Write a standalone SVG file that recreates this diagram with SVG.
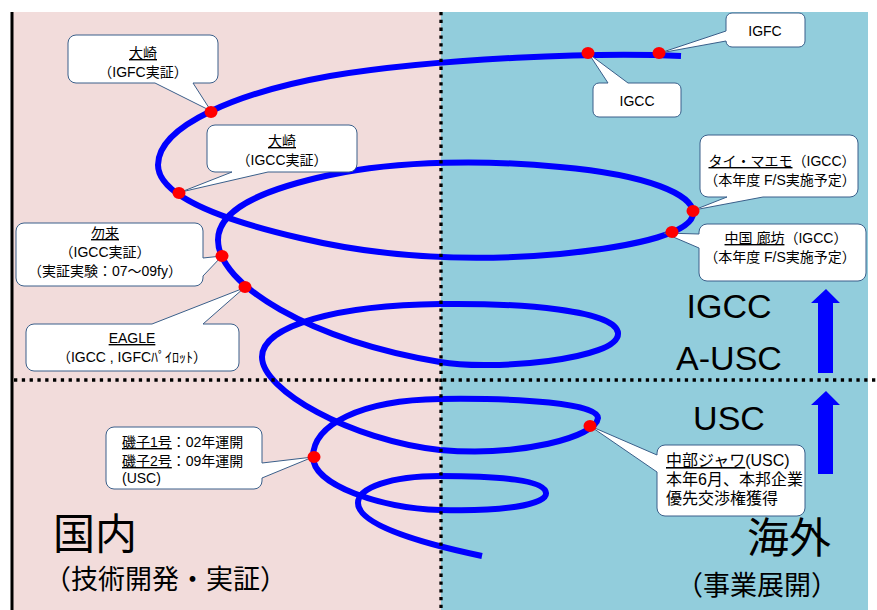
<svg xmlns="http://www.w3.org/2000/svg" width="877" height="610" viewBox="0 0 877 610">
<style>
.t{font-family:'Liberation Sans','Noto Sans CJK JP',sans-serif;fill:#000}
.j{font-family:'Noto Sans CJK JP',sans-serif;fill:#000}
.c14{font-size:14px}
.m{text-anchor:middle}
.u{text-decoration:underline}
.box{fill:#fff;stroke:#3A5F8A;stroke-width:1}
.dot{fill:#FF0000}
.spiral{fill:none;stroke:#0000FF;stroke-width:6;stroke-linecap:butt}
.dotted{stroke:#000;stroke-width:3.3;stroke-dasharray:3.3 4.5;fill:none}
.arrow{fill:#0000FF}
</style>
<rect x="0" y="0" width="877" height="610" fill="#fff"/>
<rect x="12" y="12" width="429" height="598" fill="#F2DCDB"/>
<rect x="441" y="12" width="427" height="598" fill="#92CDDC"/>
<line x1="12" y1="12" x2="12" y2="610" stroke="#000" stroke-width="3"/>

<g id="spiral">
<path class="spiral" d="M681,56 C600,52 440,58 330,76 C240,92 158,125 158,165 C158,190 200,215 300,238 C380,257 470,262 560,254 C640,246 695,232 693,212 C692,195 650,175 560,167 C490,160 400,160 330,175 C260,190 218,210 218,240 C218,285 310,340 440,362 C490,371 620,360 618,333 C616,310 520,303 440,304 C340,305 262,325 262,357 C262,390 350,440 440,450 C520,457 596,437 598,418 C598,403 520,398 440,399 C360,400 313,425 313,457 C313,485 380,508 440,510 C500,512 547,505 546,493 C545,480 500,476 440,476 C390,476 358,488 358,503 C358,525 420,543 482,556"/>
</g>

<g id="dividers">
<line class="dotted" x1="441" y1="12" x2="441" y2="610"/>
<line class="dotted" x1="14" y1="380" x2="877" y2="380"/>
</g>

<g id="connectors">
<path id="ptr-arrow-upper" class="arrow" d="M826,289 L840,303 L833,303 L833,373 L818,373 L818,303 L811,303 Z"/>
<path id="ptr-arrow-lower" class="arrow" d="M826,391 L840,405 L833,405 L833,474 L818,474 L818,405 L811,405 Z"/>
</g>

<g id="callout-osaki-igfc">
<path class="box" d="M76,35 H210 A8 8 0 0 1 218,43 V75 A8 8 0 0 1 210,83 H193 L211,111 L155,83 H76 A8 8 0 0 1 68,75 V43 A8 8 0 0 1 76,35 Z"/>
<text class="t c14 m" x="143" y="58"><tspan class="u">大崎</tspan></text>
<text class="t c14 m" x="143" y="77">（IGFC実証）</text>
</g>

<g id="callout-osaki-igcc">
<path class="box" d="M215,125 H349 A8 8 0 0 1 357,133 V164 A8 8 0 0 1 349,172 H268 L181,192 L232,172 H215 A8 8 0 0 1 207,164 V133 A8 8 0 0 1 215,125 Z"/>
<text class="t c14 m" x="282" y="146"><tspan class="u">大崎</tspan></text>
<text class="t c14 m" x="282" y="165">（IGCC実証）</text>
</g>

<g id="callout-nakoso">
<path class="box" d="M24,223 H195 A8 8 0 0 1 203,231 V258 L222,256 L203,276 V278 A8 8 0 0 1 195,286 H24 A8 8 0 0 1 16,278 V231 A8 8 0 0 1 24,223 Z"/>
<text class="t c14 m" x="105" y="238"><tspan class="u">勿来</tspan></text>
<text class="t c14 m" x="105" y="257">（IGCC実証）</text>
<text class="t c14 m" x="105" y="276">（実証実験：07～09fy）</text>
</g>

<g id="callout-eagle">
<path class="box" d="M34,324 H152 L244,288 L203,324 H231 A8 8 0 0 1 239,332 V363 A8 8 0 0 1 231,371 H34 A8 8 0 0 1 26,363 V332 A8 8 0 0 1 34,324 Z"/>
<text class="t c14 m" x="132" y="343"><tspan class="u">EAGLE</tspan></text>
<text class="t c14 m" x="132" y="362">（IGCC , IGFCﾊﾟｲﾛｯﾄ）</text>
</g>

<g id="callout-igcc">
<path class="box" d="M599,83 H608 L589,54 L628,83 H675 A6 6 0 0 1 681,89 V111 A6 6 0 0 1 675,117 H599 A6 6 0 0 1 593,111 V89 A6 6 0 0 1 599,83 Z"/>
<text class="t c14 m" x="637" y="106">IGCC</text>
</g>

<g id="callout-igfc">
<path class="box" d="M732,13 H799 A6 6 0 0 1 805,19 V41 A6 6 0 0 1 799,47 H732 A6 6 0 0 1 726,41 L660,53 L726,31 V19 A6 6 0 0 1 732,13 Z"/>
<text class="t c14 m" x="765" y="36">IGFC</text>
</g>

<g id="callout-thai">
<path class="box" d="M708,135 H850 A8 8 0 0 1 858,143 V189 A8 8 0 0 1 850,197 H763 L694,210 L727,197 H708 A8 8 0 0 1 700,189 V143 A8 8 0 0 1 708,135 Z"/>
<text class="t c14 m" x="782" y="166"><tspan class="u">タイ・マエモ</tspan>（IGCC）</text>
<text class="t c14 m" x="780" y="185">（本年度 F/S実施予定）</text>
</g>

<g id="callout-china">
<path class="box" d="M707,224 H858 A8 8 0 0 1 866,232 V273 A8 8 0 0 1 858,281 H707 A8 8 0 0 1 699,273 V248 L664,233 L699,234 V232 A8 8 0 0 1 707,224 Z"/>
<text class="t c14 m" x="786" y="243"><tspan class="u">中国 廊坊</tspan>（IGCC）</text>
<text class="t c14 m" x="780" y="262">（本年度 F/S実施予定）</text>
</g>

<g id="callout-isogo">
<path class="box" d="M114,427 H254 A8 8 0 0 1 262,435 V463 L313,457 L262,478 V481 A8 8 0 0 1 254,489 H114 A8 8 0 0 1 106,481 V435 A8 8 0 0 1 114,427 Z"/>
<text class="t c14" x="122" y="447"><tspan class="u">磯子1号</tspan>：02年運開</text>
<text class="t c14" x="122" y="466"><tspan class="u">磯子2号</tspan>：09年運開</text>
<text class="t c14" x="122" y="483">(USC)</text>
</g>

<g id="callout-chubu-jawa">
<path class="box" d="M665,445 H797 A8 8 0 0 1 805,453 V508 A8 8 0 0 1 797,516 H665 A8 8 0 0 1 657,508 V472 L590,426 L657,455 V453 A8 8 0 0 1 665,445 Z"/>
<text class="t" font-size="16" x="666" y="466"><tspan class="u">中部ジャワ</tspan>(USC)</text>
<text class="t" font-size="16" x="666" y="485">本年6月、本邦企業</text>
<text class="t" font-size="16" x="666" y="504">優先交渉権獲得</text>
</g>

<g id="points">
<ellipse class="dot" cx="659" cy="53" rx="6.5" ry="6"/>
<ellipse class="dot" cx="588" cy="53" rx="6.5" ry="6"/>
<ellipse class="dot" cx="211" cy="112" rx="6.5" ry="6"/>
<ellipse class="dot" cx="179" cy="193" rx="6.5" ry="6"/>
<ellipse class="dot" cx="693" cy="211" rx="6.5" ry="6"/>
<ellipse class="dot" cx="672" cy="232" rx="6.5" ry="6"/>
<ellipse class="dot" cx="222" cy="256" rx="6.5" ry="6"/>
<ellipse class="dot" cx="245" cy="287" rx="6.5" ry="6"/>
<ellipse class="dot" cx="314" cy="457" rx="6.5" ry="6"/>
<ellipse class="dot" cx="590" cy="426" rx="6.5" ry="6"/>
</g>

<g id="labels">
<text class="t m" font-size="34" x="729" y="318">IGCC</text>
<text class="t m" font-size="34" x="729" y="370">A-USC</text>
<text class="t m" font-size="34" x="729" y="430">USC</text>
<text class="j" font-size="42" x="53" y="549">国内</text>
<text class="j" font-size="27" x="44" y="589">（技術開発・実証）</text>
<text class="j" font-size="42" x="747" y="553">海外</text>
<text class="j" font-size="27" x="676" y="595">（事業展開）</text>
</g>
</svg>
